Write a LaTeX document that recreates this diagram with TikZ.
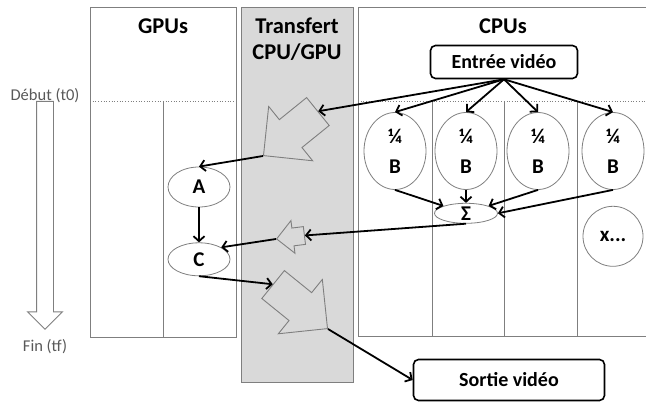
\documentclass[tikz,border=0pt]{standalone}
\usepackage{fontspec}
\setmainfont{Carlito}
\usetikzlibrary{positioning, arrows.meta, shapes.geometric, shapes.arrows}

\definecolor{framegray}{RGB}{127,127,127}
\definecolor{bandgray}{RGB}{217,217,217}
\definecolor{labelgray}{RGB}{89,89,89}

\begin{document}
\begin{tikzpicture}[x=1pt, y=-1pt,
  panel/.style={draw=framegray, line width=0.9pt},
  divider/.style={draw=framegray, line width=0.7pt},
  title/.style={align=center, font=\fontsize{22.5}{26}\selectfont\bfseries},
  task/.style={ellipse, draw=framegray, line width=0.8pt, inner sep=0pt, minimum width=62pt, align=center, font=\fontsize{21}{30}\selectfont\bfseries},
  io/.style={draw=black, line width=1.6pt, rounded corners=5pt, inner sep=0pt, font=\fontsize{20}{23}\selectfont\bfseries},
  timelabel/.style={text=labelgray, font=\fontsize{16.5}{20}\selectfont},
  transfer/.style={single arrow, draw=framegray, fill=bandgray, line width=0.9pt, single arrow tip angle=90, inner xsep=0pt, anchor=tip},
  flow/.style={line width=1.8pt, -{Straight Barb[length=5pt, width=11pt]}},
]
\useasboundingbox (0,0) rectangle (646,403);

\draw[panel] (90,7) rectangle (236,337);
\draw[panel, fill=bandgray] (241,7) rectangle (353,382);
\draw[panel] (646,7) -- (358,7) -- (358,336) -- (646,336);
\draw[divider, dotted] (90,101) -- (236,101) (358,101) -- (646,101);
\draw[divider] (163,101) -- (163,337);
\foreach \x in {432,504,577}
  \draw[divider] (\x,101) -- (\x,336);

\path
(163,26) node[title] (gpus) {GPUs}
(297,39) node[title] (transfert) {Transfert\\CPU/GPU}
(503,26) node[title] (cpus) {CPUs}
(504,62) node[io, minimum width=147pt, minimum height=33pt] (entree) {Entrée vidéo}
(509,380) node[io, minimum width=191pt, minimum height=41pt] (sortie) {Sortie vidéo}
(45,96) node[timelabel] (debut) {Début (t0)}
(45,347) node[timelabel] (fin) {Fin (tf)}
;

\node[single arrow, draw=framegray, fill=white, line width=0.9pt, single arrow tip angle=90,
  inner xsep=0pt, inner ysep=8pt, single arrow head extend=9pt, minimum height=228pt,
  rotate=-90, anchor=tip] (temps) at (45,330) {};

\path
(395,151) node[task, minimum height=77pt] (b1) {¼\\B}
(466,151) node[task, minimum height=77pt] (b2) {¼\\B}
(538,151) node[task, minimum height=77pt] (b3) {¼\\B}
(613,151) node[task, minimum height=77pt] (b4) {¼\\B}
node[task, minimum width=63pt, minimum height=20pt] (sigma) [below=13pt of b2] {Σ}
node[task, circle, minimum size=60pt] (xsuite) [below=16pt of b4] {x...}
(199,187) node[task, minimum height=40pt] (a) {A}
node[task, minimum height=33pt] (c) [below=35pt of a] {C}
;

\node[transfer, inner ysep=17.5pt, single arrow head extend=17pt, minimum height=70pt, rotate=219] (vers-gpu) at (263,156) {};
\node[transfer, inner ysep=8.5pt, single arrow head extend=7.5pt, minimum height=28pt, rotate=187] (retour) at (276,239) {};
\node[transfer, inner ysep=17.5pt, single arrow head extend=17pt, minimum height=70pt, rotate=-39] (vers-cpu) at (328,329) {};

\draw[flow] (entree.south) -- (vers-gpu.tail);
\foreach \b in {b1,b2,b3,b4}
  \draw[flow] (entree.south) -- (\b.north);

\draw[flow] (b1.south) -- (sigma.north west);
\draw[flow] (b2.south) -- (sigma.north);
\draw[flow] (b3.south) -- (sigma.north east);
\draw[flow] (b4.south) -- (sigma.east);

\draw[flow] (vers-gpu.tip) -- (a.north);
\draw[flow] (a.south) -- (c.north);
\draw[flow] (sigma.south) -- (retour.tail);
\draw[flow] (retour.tip) -- (c.north east);
\draw[flow] (c.south) -- (vers-cpu.tail);
\draw[flow] (vers-cpu.tip) -- (sortie.west);

\end{tikzpicture}
\end{document}
